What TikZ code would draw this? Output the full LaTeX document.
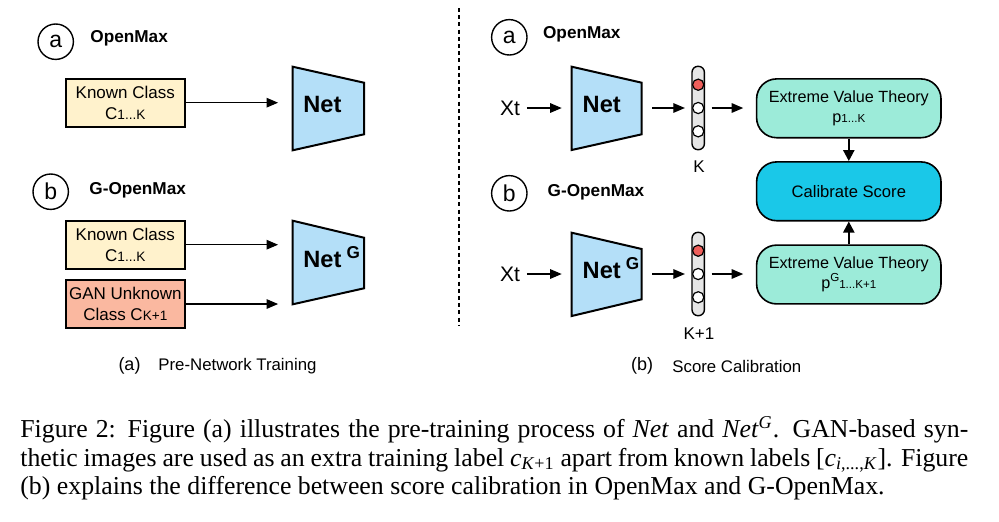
\documentclass[tikz,border=0pt]{standalone}
\usepackage{fontspec}
\setmainfont{Liberation Serif}
\setsansfont{Liberation Sans}
\usetikzlibrary{arrows.meta}

\definecolor{knownfill}{HTML}{FFF2CC}
\definecolor{ganfill}{HTML}{FAB8A0}
\definecolor{netfill}{HTML}{B4DFF8}
\definecolor{evtfill}{HTML}{9CEBD9}
\definecolor{calfill}{HTML}{1AC8E8}
\definecolor{vecfill}{HTML}{E6E6E6}
\definecolor{hotfill}{HTML}{EE5F5B}

% small index text, same baseline
\newcommand{\idx}[2][6.8]{{\fontsize{#1}{#1}\selectfont #2}}

\begin{document}
\begin{tikzpicture}[x=0.5pt,y=-0.5pt,
  tag/.style={draw,circle,line width=0.7pt,minimum size=17.7pt,inner sep=0pt,font=\sffamily\fontsize{11.5}{12}\selectfont},
  title/.style={anchor=west,inner sep=0pt,font=\sffamily\bfseries\fontsize{8.6}{10}\selectfont},
  classbox/.style={draw,line width=1pt,minimum width=59.7pt,minimum height=24pt,inner sep=0pt,align=center,font=\sffamily\fontsize{8.5}{10.3}\selectfont},
  netshape/.style={draw,line width=1pt,fill=netfill},
  nettext/.style={anchor=base west,inner sep=0pt,font=\sffamily\bfseries\fontsize{11.8}{12}\selectfont},
  vecbar/.style={draw,line width=0.7pt,fill=vecfill,rounded corners=3pt,minimum width=6.2pt,minimum height=41.7pt,inner sep=0pt},
  unit/.style={draw,circle,line width=0.6pt,fill=white,minimum size=5.6pt,inner sep=0pt},
  evtbox/.style={draw,line width=0.8pt,rounded corners=10pt,minimum width=92.2pt,minimum height=29.4pt,inner sep=0pt,align=center,fill=evtfill,font=\sffamily\fontsize{8.1}{10}\selectfont},
  arr/.style={-{Triangle[length=5.8pt,width=4.8pt]},line width=0.6pt},
  bigarr/.style={-{Triangle[length=5.5pt,width=5.5pt]},line width=1.1pt},
  plain/.style={font=\sffamily\fontsize{8.5}{10}\selectfont}]

  \useasboundingbox (0,0) rectangle (999,521);

  % left half: pre-network training
  \node[tag] (taga) at (55.7,41.7) {a};
  \node[title] (titlea) at (90,38) {OpenMax};
  \node[tag] (tagb) at (50.7,191.7) {b};
  \node[title] (titleb) at (89,190) {G-OpenMax};

  \node[classbox,fill=knownfill] (knowna) at (125.3,102.7) {Known Class\\C\idx{1...K}};
  \node[classbox,fill=knownfill] (knownb) at (125.3,244.7) {Known Class\\C\idx{1...K}};
  \node[classbox,fill=ganfill] (gan) at (125.3,304) {GAN Unknown\\Class C\idx{K+1}};

  \draw[netshape] (292.7,66.7) -- (364,82.7) -- (364,134.3) -- (292.7,150.3) -- cycle;
  \node[nettext] (neta) at (303,112.7) {Net};
  \draw[netshape] (292.7,220.7) -- (364,237.7) -- (364,288.3) -- (292.7,304.3) -- cycle;
  \node[nettext] (netb) at (303,267) {Net\hspace{2.6pt}\raisebox{4.5pt}{\fontsize{8.6}{9}\selectfont G}};

  \coordinate (neta-w) at (292.7,102.7);
  \coordinate (netb-w1) at (292.7,244.7);
  \coordinate (netb-w2) at (292.7,304);
  \draw[arr,shorten >=7.3pt] (knowna) -- (neta-w);
  \draw[arr,shorten >=7.3pt] (knownb) -- (netb-w1);
  \draw[arr,shorten >=7.3pt] (gan) -- (netb-w2);

  % divider
  \coordinate (divtop) at (459,8);
  \coordinate (divbot) at (459,325);
  \draw[line width=0.6pt,dash pattern=on 2pt off 1.6pt] (divtop) -- (divbot);

  % right half: score calibration
  \node[tag] (tagc) at (509.3,37.3) {a};
  \node[title] (titlec) at (542.7,34.3) {OpenMax};
  \node[tag] (tagd) at (509.3,193.3) {b};
  \node[title] (titled) at (547.3,192.3) {G-OpenMax};

  \node[font=\sffamily\fontsize{10.5}{12}\selectfont] (xta) at (510,108) {Xt};
  \node[font=\sffamily\fontsize{10.5}{12}\selectfont] (xtb) at (510,274) {Xt};

  \draw[netshape] (571.7,66.7) -- (641.7,82.7) -- (641.7,134.3) -- (571.7,150) -- cycle;
  \node[nettext] (netc) at (582.3,112.7) {Net};
  \draw[netshape] (571.7,232.7) -- (641.7,249) -- (641.7,299.3) -- (571.7,316) -- cycle;
  \node[nettext] (netd) at (582.3,278.3) {Net\hspace{2.6pt}\raisebox{4.5pt}{\fontsize{8.6}{9}\selectfont G}};
  \coordinate (netc-w) at (571.7,108);
  \coordinate (netc-e) at (641.7,108);
  \coordinate (netd-w) at (571.7,274);
  \coordinate (netd-e) at (641.7,274);

  % output vectors
  \node[vecbar] (veca) at (698.2,108) {};
  \node[unit,fill=hotfill] (veca1) at (698.2,84.7) {};
  \node[unit] (veca2) at (698.2,108) {};
  \node[unit] (veca3) at (698.2,131.3) {};
  \node[plain] (ka) at (699,166.7) {K};

  \node[vecbar] (vecb) at (698.2,274) {};
  \node[unit,fill=hotfill] (vecb1) at (698.2,250.7) {};
  \node[unit] (vecb2) at (698.2,274) {};
  \node[unit] (vecb3) at (698.2,297.3) {};
  \node[plain] (kb) at (699,333.3) {K+1};

  \node[evtbox] (evta) at (848.8,108.3) {Extreme Value Theory\\p\idx[5.8]{1...K}};
  \node[evtbox,fill=calfill,font=\sffamily\fontsize{8.3}{10}\selectfont] (calib) at (848.8,191.3) {Calibrate Score};
  \node[evtbox] (evtb) at (848.8,274.5) {Extreme Value Theory\\p\raisebox{3.6pt}{\idx[5.8]{G}}\idx[5.8]{1...K+1}};

  \draw[arr,shorten >=5pt] (xta) -- (netc-w);
  \draw[arr,shorten <=5.3pt,shorten >=3.2pt] (netc-e) -- (veca);
  \draw[arr,shorten <=3.3pt,shorten >=6.3pt] (veca) -- (evta.west |- veca);
  \draw[arr,shorten >=5pt] (xtb) -- (netd-w);
  \draw[arr,shorten <=5.3pt,shorten >=3.2pt] (netd-e) -- (vecb);
  \draw[arr,shorten <=3.3pt,shorten >=6.3pt] (vecb) -- (evtb.west |- vecb);
  \draw[bigarr] (evta) -- (calib);
  \draw[bigarr] (evtb) -- (calib);

  % sub captions
  \node[font=\sffamily\fontsize{9}{10}\selectfont] (suba) at (129.5,366) {(a)};
  \node[anchor=west,inner sep=0pt,font=\sffamily\fontsize{8.4}{10}\selectfont] (subatext) at (158,366) {Pre-Network Training};
  \node[font=\sffamily\fontsize{9}{10}\selectfont] (subb) at (642,366) {(b)};
  \node[anchor=west,inner sep=0pt,font=\sffamily\fontsize{8.4}{10}\selectfont] (subbtext) at (672,366) {Score Calibration};

  % figure caption
  \node[anchor=north west,inner sep=0pt,text width=474pt,align=justify,font=\rmfamily\fontsize{12.9}{14.3}\selectfont] (caption) at (20,416.5)
    {Figure 2: Figure (a) illustrates the pre-training process of \textit{Net} and \textit{Net}\textsuperscript{\textit{G}}. GAN-based syn-\linebreak
     thetic images are used as an extra training label \textit{c}\textsubscript{\textit{K}+1} apart from known labels [\textit{c}\textsubscript{\textit{i},...,\textit{K}}]. Figure\linebreak
     (b) explains the difference between score calibration in OpenMax and G-OpenMax.};
\end{tikzpicture}
\end{document}
